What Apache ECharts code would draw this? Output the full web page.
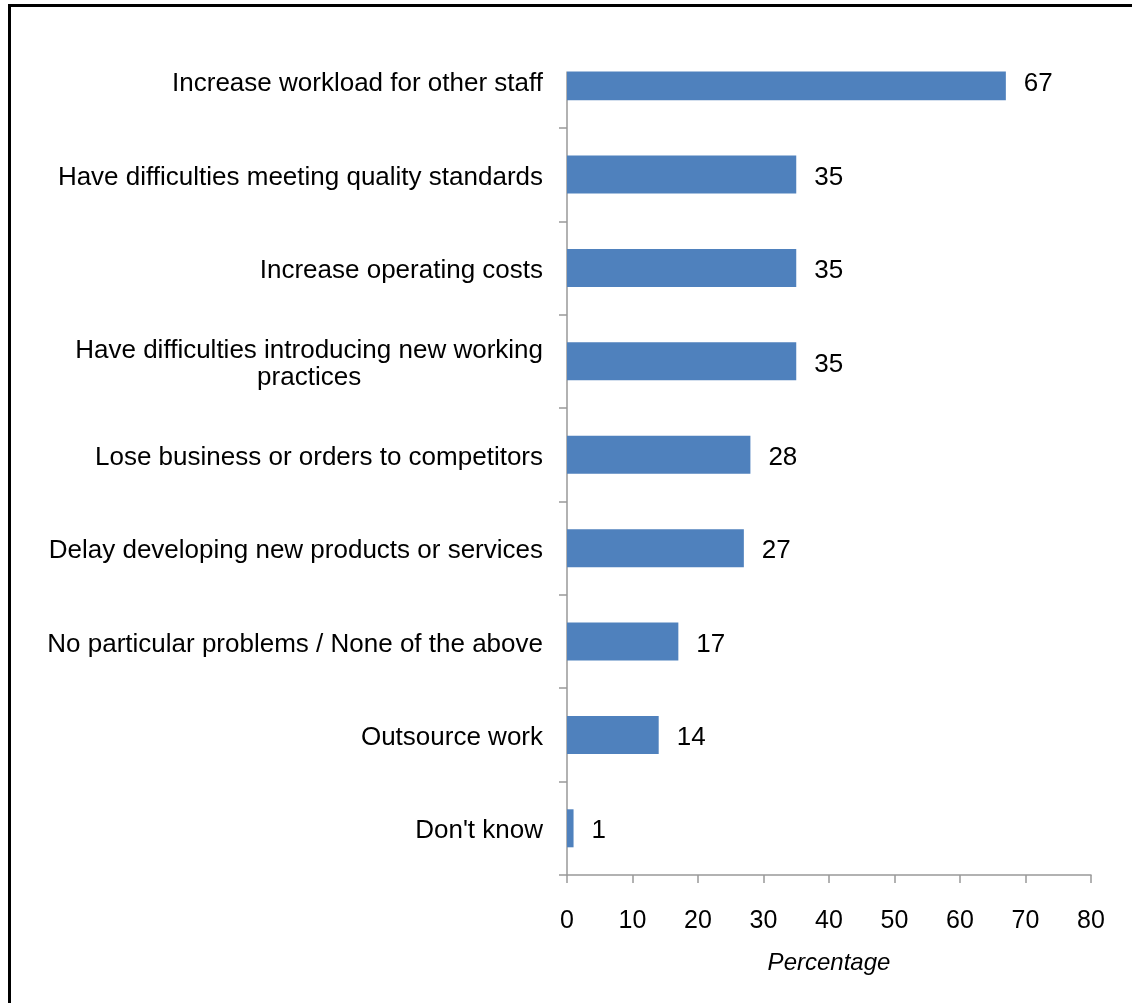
<!DOCTYPE html>
<html>
<head>
<meta charset="utf-8">
<script src="https://cdn.jsdelivr.net/npm/echarts@6/dist/echarts.min.js"></script>
<style>
  html, body { margin: 0; padding: 0; background: #ffffff; }
  #chart { width: 1132px; height: 1003px; }
</style>
</head>
<body>
<div id="chart"></div>
<script>
// Reported consequences, share of establishments (%)
const categories = [
  'Increase workload for other staff',
  'Have difficulties meeting quality standards',
  'Increase operating costs',
  'Have difficulties introducing new working\npractices',
  'Lose business or orders to competitors',
  'Delay developing new products or services',
  'No particular problems / None of the above',
  'Outsource work',
  "Don't know"
];
const values = [67, 35, 35, 35, 28, 27, 17, 14, 1];
const xTicks = { min: 0, max: 80, interval: 10 };
const xTitle = 'Percentage';

const FONT = '"Liberation Sans", Arial, sans-serif';

const chart = echarts.init(document.getElementById('chart'), null, { renderer: 'canvas' });

chart.setOption({
  animation: false,
  backgroundColor: '#ffffff',
  grid: { left: 567, right: 41, top: 34.5, bottom: 128, containLabel: false },
  xAxis: {
    type: 'value',
    min: xTicks.min,
    max: xTicks.max,
    interval: xTicks.interval,
    name: xTitle,
    nameLocation: 'middle',
    nameGap: 76,
    nameTextStyle: { fontFamily: FONT, fontSize: 24, fontStyle: 'italic', color: '#000' },
    axisLine: { show: true, lineStyle: { color: '#999999', width: 1.5 } },
    axisTick: { show: true, length: 8, lineStyle: { color: '#999999', width: 1.5 } },
    axisLabel: { fontFamily: FONT, fontSize: 25, color: '#000', margin: 34 },
    splitLine: { show: false }
  },
  yAxis: {
    type: 'category',
    inverse: true,
    data: categories,
    axisLine: { show: true, lineStyle: { color: '#999999', width: 1.5 } },
    axisTick: { show: true, length: 8, lineStyle: { color: '#999999', width: 1.5 } },
    axisLabel: {
      fontFamily: FONT,
      fontSize: 26,
      color: '#000',
      margin: 24,
      lineHeight: 27,
      padding: [6, 0, 0, 0],
      formatter: function (v) {
        return v.split('\n').map(function (s) { return '{c|' + s + '}'; }).join('\n');
      },
      rich: { c: { align: 'center', fontFamily: FONT, fontSize: 26, color: '#000', lineHeight: 27 } }
    }
  },
  series: [{
    type: 'bar',
    data: values,
    barWidth: 38,
    itemStyle: { color: '#4f81bd' },
    label: {
      show: true,
      position: 'right',
      distance: 18,
      offset: [0, 3],
      fontFamily: FONT,
      fontSize: 26,
      color: '#000'
    }
  }],
  graphic: [
    // white band trimming the top of the plot area
    { type: 'rect', z: 100, shape: { x: 555, y: 28, width: 462, height: 43.5 }, style: { fill: '#ffffff' } },
    // outer frame
    { type: 'rect', z: 100, shape: { x: 9.5, y: 5.5, width: 1200, height: 1100 }, style: { fill: 'none', stroke: '#000000', lineWidth: 3 } }
  ]
});
</script>
</body>
</html>
